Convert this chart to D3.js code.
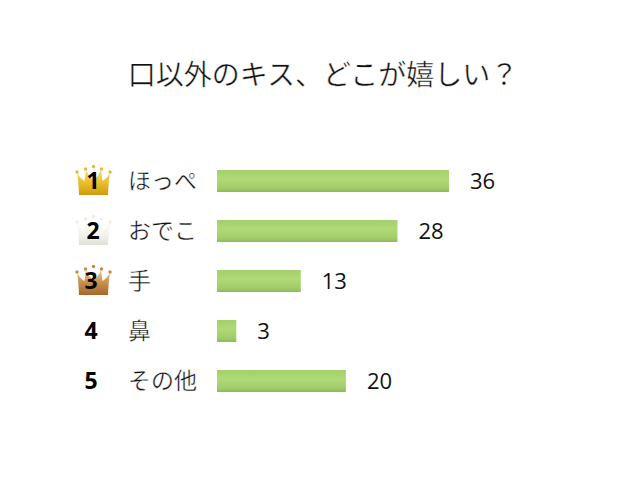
<!DOCTYPE html>
<html lang="ja">
<head>
<meta charset="utf-8">
<script src="https://cdn.jsdelivr.net/npm/d3@7"></script>
<style>
    html, body { margin: 0; padding: 0; background: #fff; }
    text { font-family: "Noto Sans CJK JP", "Noto Sans", sans-serif; fill: #111; }
    /* thin white outline so the kana look lighter, like the original face */
    .ja { stroke: #fff; stroke-width: 0.4px; }
    .num { font-family: "Open Sans", sans-serif; }
</style>
</head>
<body>
<div id="chart"></div>
<script>
const chartTitle = '口以外のキス、どこが嬉しい？';
const ranks = [1, 2, 3, 4, 5];
const categories = ['ほっぺ', 'おでこ', '手', '鼻', 'その他'];
const values = [36, 28, 13, 3, 20];

const width = 640;
const height = 480;

const svg = d3.select('#chart').append('svg')
    .attr('width', width)
    .attr('height', height)
    .style('display', 'block');

const defs = svg.append('defs');

function addGradient(id, stops) {
    const grad = defs.append('linearGradient')
        .attr('id', id)
        .attr('x1', 0).attr('y1', 0)
        .attr('x2', 0).attr('y2', 1);
    stops.forEach(s => {
        grad.append('stop').attr('offset', s[0]).attr('stop-color', s[1]);
    });
}

// Bars are lighter in the middle, darker on the bottom edge
addGradient('bar-fill', [[0, '#a3cf6d'], [0.4, '#b0d977'], [0.8, '#a2ce6a'], [1, '#8fb95a']]);
addGradient('crown-1', [[0, '#f5dc70'], [0.55, '#e9bb28'], [1, '#d09a10']]);
addGradient('crown-2', [[0, '#fdfdfb'], [0.6, '#f3f2ea'], [1, '#e2e1d6']]);
addGradient('crown-3', [[0, '#ecc79c'], [0.55, '#c68a48'], [1, '#a5682a']]);

const x = d3.scaleLinear()
    .domain([0, 36])
    .range([217, 449]);

const y = d3.scaleBand()
    .domain(ranks)
    .range([156, 406])
    .paddingInner(0.56)
    .paddingOuter(0.28);

svg.append('text')
    .attr('class', 'ja')
    .attr('x', 323)
    .attr('y', 85)
    .attr('text-anchor', 'middle')
    .attr('font-size', 28)
    .text(chartTitle);

const rows = svg.selectAll('g.row')
    .data(ranks)
    .enter().append('g')
    .attr('class', 'row')
    .attr('transform', d => `translate(0,${y(d) + y.bandwidth() / 2})`);

// Crowns for the top three only
const crownPath = 'M-14.5,14 C-15,6 -15,0 -16.5,-8 C-13,-3 -11,-1 -9,0 C-8.5,-4 -8,-8 -7.5,-11 C-5,-6 -3,-3 0,-1 C3,-3 5,-6 7.5,-11 C8,-8 8.5,-4 9,0 C11,-1 13,-3 16.5,-8 C15,0 15,6 14.5,14 Z';
const crowns = rows.filter(d => d <= 3).append('g')
    .attr('transform', 'translate(93.5,0)');

crowns.append('path')
    .attr('d', crownPath)
    .attr('fill', d => `url(#crown-${d})`);

crowns.selectAll('circle')
    .data(d => [[-16.5, -9], [-8, -12], [0, -14.5], [8, -12], [16.5, -9]].map(p => ({ p: p, rank: d })))
    .enter().append('circle')
    .attr('cx', d => d.p[0])
    .attr('cy', d => d.p[1])
    .attr('r', 1.7)
    .attr('fill', d => d.rank === 2 ? '#eeeee6' : d.rank === 1 ? '#e9bb28' : '#c68a48');

rows.append('text')
    .attr('class', 'num')
    .attr('x', d => d <= 2 ? 93 : 91)
    .attr('y', 0)
    .attr('dy', '.36em')
    .attr('text-anchor', 'middle')
    .attr('font-size', 23)
    .attr('font-weight', 700)
    .style('fill', '#000')
    .text(d => d);

rows.append('text')
    .attr('class', 'ja')
    .attr('x', 128)
    .attr('y', 0)
    .attr('dy', '.35em')
    .attr('font-size', 23)
    .text((d, i) => categories[i]);

rows.append('rect')
    .attr('x', x(0))
    .attr('y', -y.bandwidth() / 2)
    .attr('width', (d, i) => x(values[i]) - x(0))
    .attr('height', y.bandwidth())
    .attr('fill', 'url(#bar-fill)');

rows.append('text')
    .attr('class', 'num')
    .attr('x', (d, i) => x(values[i]) + 21)
    .attr('y', 0)
    .attr('dy', '.36em')
    .attr('font-size', 22)
    .text((d, i) => values[i]);
</script>
</body>
</html>
